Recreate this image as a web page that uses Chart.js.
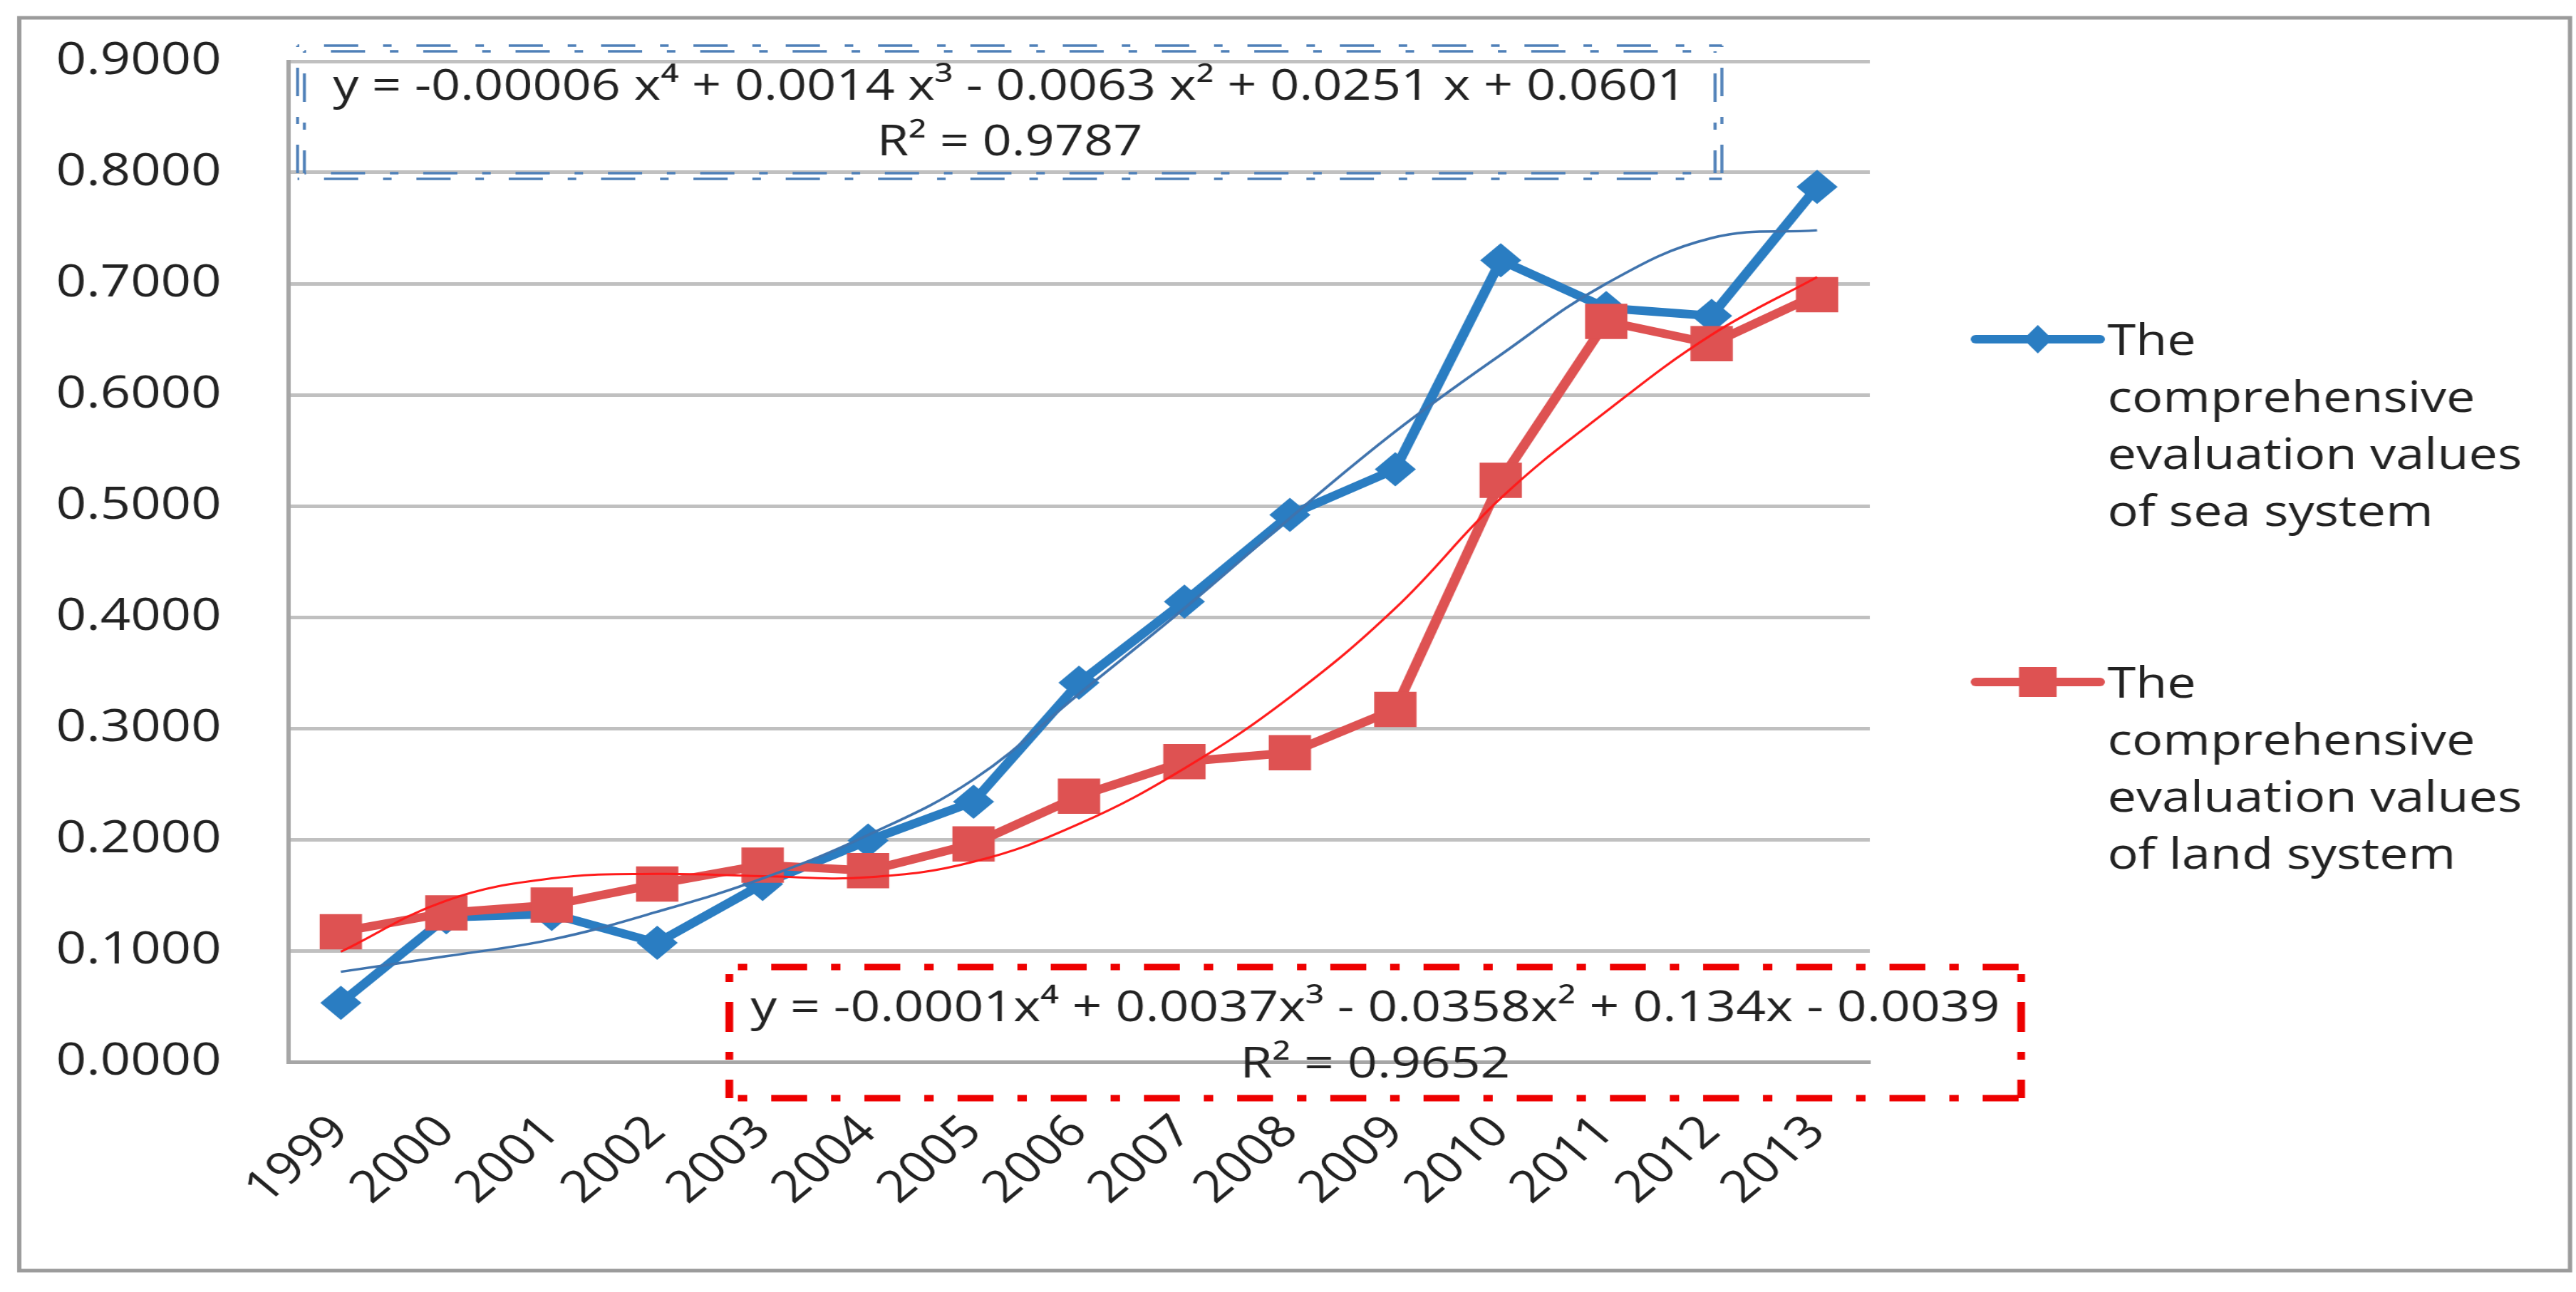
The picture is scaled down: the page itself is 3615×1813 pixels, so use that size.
<!DOCTYPE html>
<html>
<head>
<meta charset="utf-8">
<script src="https://cdn.jsdelivr.net/npm/chart.js@4.4.1/dist/chart.umd.min.js"></script>
<style>
  html, body { margin: 0; padding: 0; background: #ffffff; overflow: hidden; }
  #wrap { width: 3013px; height: 1813px; transform: scaleX(1.1998); transform-origin: 0 0; }
  #c { display: block; width: 3013px; height: 1813px; }
</style>
</head>
<body>
<div id="wrap"><canvas id="c" width="3013" height="1813"></canvas></div>
<script>
// ---- data ----
const years = ['1999','2000','2001','2002','2003','2004','2005','2006','2007','2008','2009','2010','2011','2012','2013'];
const seaValues  = [0.053, 0.130, 0.133, 0.107, 0.160, 0.199, 0.234, 0.341, 0.414, 0.492, 0.533, 0.721, 0.678, 0.671, 0.787];
const landValues = [0.117, 0.134, 0.141, 0.160, 0.177, 0.172, 0.196, 0.239, 0.270, 0.278, 0.317, 0.523, 0.666, 0.646, 0.690];
const seaTrend   = [0.081, 0.095, 0.110, 0.135, 0.165, 0.204, 0.254, 0.331, 0.408, 0.489, 0.567, 0.636, 0.700, 0.741, 0.748];
const landTrend  = [0.099, 0.145, 0.165, 0.169, 0.167, 0.166, 0.180, 0.214, 0.264, 0.328, 0.408, 0.507, 0.585, 0.654, 0.706];
const yTickLabels = ['0.0000','0.1000','0.2000','0.3000','0.4000','0.5000','0.6000','0.7000','0.8000','0.9000'];
const seaName  = 'The comprehensive evaluation values of sea system';
const landName = 'The comprehensive evaluation values of land system';
const seaLegendLines  = ['The', 'comprehensive', 'evaluation values', 'of sea system'];
const landLegendLines = ['The', 'comprehensive', 'evaluation values', 'of land system'];
const seaEquation  = ['y = -0.00006 x\u2074 + 0.0014 x\u00b3 - 0.0063 x\u00b2 + 0.0251 x + 0.0601', 'R\u00b2 = 0.9787'];
const landEquation = ['y = -0.0001x\u2074 + 0.0037x\u00b3 - 0.0358x\u00b2 + 0.134x - 0.0039', 'R\u00b2 = 0.9652'];

// ---- styles ----
const SEA_COLOR = '#2a7dc2';
const LAND_COLOR = '#de5252';
const SEA_TREND_COLOR = '#3f73ad';
const LAND_TREND_COLOR = '#ff1a1a';
const TEXT_COLOR = '#222222';
const FONT = '"Open Sans", "DejaVu Sans", sans-serif';

const framePlugin = {
  id: 'frame',
  beforeDraw(chart) {
    const c = chart.ctx;
    c.save();
    c.fillStyle = '#ffffff';
    c.fillRect(0, 0, chart.width, chart.height);
    c.strokeStyle = '#9b9b9b';
    c.lineWidth = 5;
    c.strokeRect(22.5, 25, 2983.5, 1758);
    c.restore();
  }
};

function dashedSide(c, x1, y1, x2, y2, pattern, offset) {
  c.beginPath();
  c.setLineDash(pattern);
  c.lineDashOffset = offset;
  c.moveTo(x1, y1);
  c.lineTo(x2, y2);
  c.stroke();
}
function dashedBox(c, x1, y1, x2, y2, pattern, offset) {
  dashedSide(c, x1, y1, x2, y1, pattern, offset);
  dashedSide(c, x1, y2, x2, y2, pattern, offset);
  dashedSide(c, x1, y1, x1, y2, pattern, offset);
  dashedSide(c, x2, y1, x2, y2, pattern, offset);
}

const annotationPlugin = {
  id: 'annotations',
  afterDraw(chart) {
    const c = chart.ctx;
    const ca = chart.chartArea;
    c.save();

    // --- sea (blue) trend equation box: double dash-dot line ---
    const t = { x1: ca.left + 15, x2: ca.left + 1673, y1: ca.top - 18, y2: ca.top + 161 };
    c.strokeStyle = '#4f80b8';
    c.lineWidth = 3.5;
    const pat = [40, 29, 10, 29];
    dashedBox(c, t.x1 - 4, t.y1 - 4, t.x2 + 4, t.y2 + 4, pat, 77);
    dashedBox(c, t.x1 + 4, t.y1 + 4, t.x2 - 4, t.y2 - 4, pat, 77);
    c.setLineDash([]);
    c.fillStyle = TEXT_COLOR;
    c.font = '60px ' + FONT;
    c.textAlign = 'center';
    c.textBaseline = 'alphabetic';
    const tcx = (t.x1 + t.x2) / 2;
    c.fillText(seaEquation[0], tcx, ca.top + 54);
    c.fillText(seaEquation[1], tcx, ca.top + 132);

    // --- land (red) trend equation box ---
    const b = { x1: ca.left + 516, x2: ca.left + 2027, y1: ca.bottom - 133, y2: ca.bottom + 51 };
    c.strokeStyle = '#ee0000';
    c.lineWidth = 9;
    dashedBox(c, b.x1, b.y1, b.x2, b.y2, [42, 28, 11, 28], 60);
    c.setLineDash([]);
    c.fillStyle = TEXT_COLOR;
    c.font = '61px ' + FONT;
    const bcx = (b.x1 + b.x2) / 2;
    c.fillText(landEquation[0], bcx, ca.bottom - 57);
    c.fillText(landEquation[1], bcx, ca.bottom + 22);

    // --- legend ---
    const lx1 = ca.right + 124, lx2 = ca.right + 269, mx = (lx1 + lx2) / 2, tx = ca.right + 278;
    const entries = [
      { y: 476, color: SEA_COLOR, lines: seaLegendLines, marker: 'diamond' },
      { y: 957, color: LAND_COLOR, lines: landLegendLines, marker: 'square' }
    ];
    entries.forEach(e => {
      c.strokeStyle = e.color;
      c.lineWidth = 12;
      c.lineCap = 'round';
      c.beginPath();
      c.moveTo(lx1, e.y);
      c.lineTo(lx2, e.y);
      c.stroke();
      c.fillStyle = e.color;
      c.beginPath();
      if (e.marker === 'diamond') {
        c.moveTo(mx, e.y - 20);
        c.lineTo(mx + 17, e.y);
        c.lineTo(mx, e.y + 20);
        c.lineTo(mx - 17, e.y);
        c.closePath();
      } else {
        c.rect(mx - 22, e.y - 21, 44, 42);
      }
      c.fill();
      c.fillStyle = TEXT_COLOR;
      c.font = '60px ' + FONT;
      c.textAlign = 'left';
      c.textBaseline = 'alphabetic';
      e.lines.forEach((ln, i) => c.fillText(ln, tx, e.y + 22 + i * 80));
    });
    c.restore();
  }
};

const ctx = document.getElementById('c').getContext('2d');
new Chart(ctx, {
  type: 'line',
  data: {
    labels: years,
    datasets: [
      {
        label: seaName, data: seaValues, order: 2,
        borderColor: SEA_COLOR, backgroundColor: SEA_COLOR, borderWidth: 12,
        borderJoinStyle: 'round', borderCapStyle: 'round',
        pointStyle: 'rectRot', pointRadius: 24, pointBorderWidth: 0,
        pointBackgroundColor: SEA_COLOR, tension: 0, fill: false
      },
      {
        label: landName, data: landValues, order: 1,
        borderColor: LAND_COLOR, backgroundColor: LAND_COLOR, borderWidth: 12,
        borderJoinStyle: 'round', borderCapStyle: 'round',
        pointStyle: 'rect', pointRadius: 35, pointBorderWidth: 0,
        pointBackgroundColor: LAND_COLOR, tension: 0, fill: false
      },
      {
        label: 'Poly. (sea)', data: seaTrend, order: 0,
        borderColor: SEA_TREND_COLOR, borderWidth: 3.5, pointRadius: 0,
        tension: 0.4, fill: false
      },
      {
        label: 'Poly. (land)', data: landTrend, order: 0,
        borderColor: LAND_TREND_COLOR, borderWidth: 3, pointRadius: 0,
        tension: 0.4, fill: false
      }
    ]
  },
  options: {
    responsive: false,
    animation: false,
    devicePixelRatio: 1,
    layout: { padding: { top: 86, right: 826, bottom: 0, left: 0 } },
    plugins: { legend: { display: false }, tooltip: { enabled: false }, title: { display: false } },
    scales: {
      x: {
        type: 'category',
        offset: true,
        grid: { display: false, drawTicks: false },
        border: { display: true, color: '#a6a6a6', width: 5 },
        ticks: {
          autoSkip: false, minRotation: 45, maxRotation: 45, padding: 62,
          color: TEXT_COLOR, font: { family: FONT, size: 62 }
        },
        afterFit(scale) { scale.height = 323; }
      },
      y: {
        min: 0, max: 0.9,
        grid: { color: '#c0c0c0', lineWidth: 5, drawTicks: true, tickLength: 78, tickColor: 'rgba(0,0,0,0)' },
        border: { display: true, color: '#a6a6a6', width: 5 },
        ticks: {
          stepSize: 0.1, padding: 0, color: TEXT_COLOR,
          font: { family: FONT, size: 62 },
          callback: (v, i) => yTickLabels[i]
        },
        afterFit(scale) { scale.width = 337; }
      }
    }
  },
  plugins: [framePlugin, annotationPlugin]
});
</script>
</body>
</html>
